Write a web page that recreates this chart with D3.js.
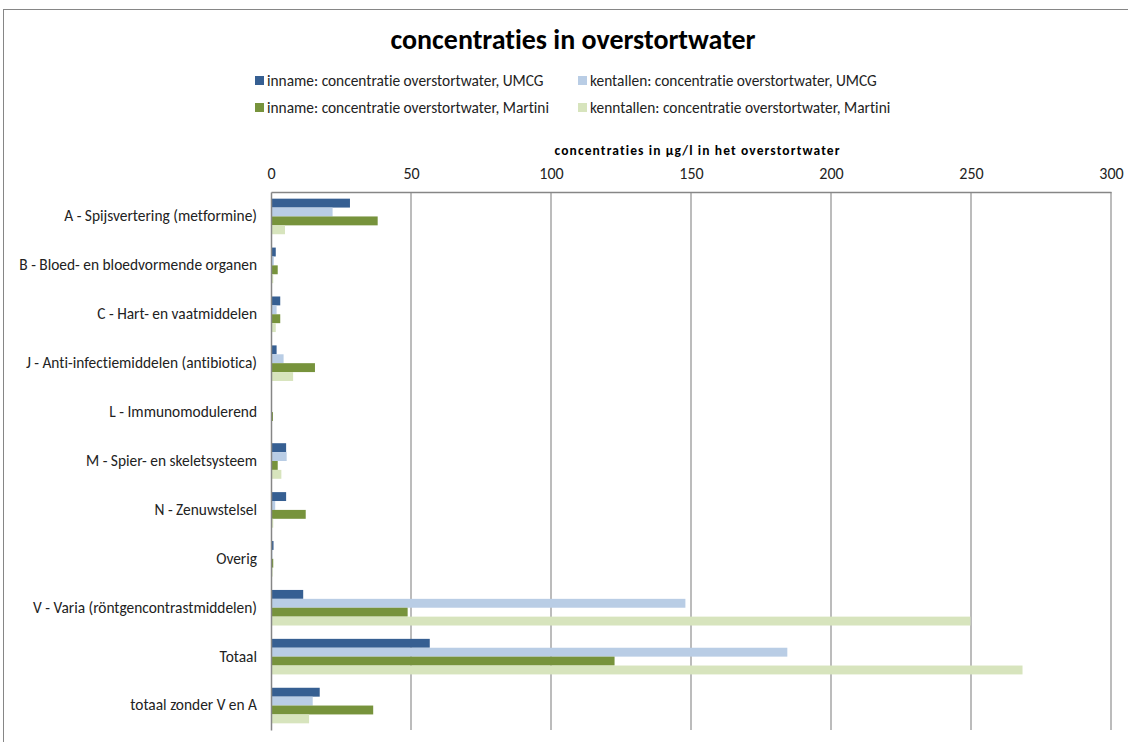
<!DOCTYPE html>
<html>
<head>
<meta charset="utf-8">
<script src="https://cdn.jsdelivr.net/npm/d3@7"></script>
<style>
  body { margin: 0; background: #fff; }
  svg { font-family: Carlito, Lato, "Open Sans", sans-serif; font-variant-ligatures: none; }
</style>
</head>
<body>
<svg id="chart" width="1128" height="742"></svg>
<script>
// categories (top to bottom)
const categories = [
    "A - Spijsvertering (metformine)",
    "B - Bloed- en bloedvormende organen",
    "C - Hart- en vaatmiddelen",
    "J - Anti-infectiemiddelen (antibiotica)",
    "L - Immunomodulerend",
    "M - Spier- en skeletsysteem",
    "N - Zenuwstelsel",
    "Overig",
    "V - Varia (röntgencontrastmiddelen)",
    "Totaal",
    "totaal zonder V en A"
];

const seriesNames = [
    "inname: concentratie overstortwater, UMCG",
    "kentallen: concentratie overstortwater, UMCG",
    "inname: concentratie overstortwater, Martini",
    "kenntallen: concentratie overstortwater, Martini"
];

const seriesColors = ["#365f92", "#b9cde5", "#77933c", "#d7e4bd"];

// values in µg/l
const innameUMCG     = [28.2, 1.7, 3.3, 2.0, 0.0, 5.4, 5.4, 0.9, 11.5, 56.7, 17.4];
const kentallenUMCG  = [22.0, 1.0, 2.0, 4.5, 0.0, 5.6, 1.5, 0.5, 148.0, 184.4, 14.9];
const innameMartini  = [38.1, 2.4, 3.3, 15.7, 0.7, 2.4, 12.4, 0.8, 48.8, 122.7, 36.5];
const kentallenMartini = [5.0, 0.8, 1.7, 7.9, 0.0, 3.7, 0.8, 0.6, 249.8, 268.4, 13.6];

const xTicks = [0, 50, 100, 150, 200, 250, 300];

const seriesValues = [innameUMCG, kentallenUMCG, innameMartini, kentallenMartini];

const svg = d3.select("#chart");

// outer chart frame
svg.append("rect")
    .attr("x", 3.5).attr("y", 9.5)
    .attr("width", 1140).attr("height", 750)
    .attr("fill", "none")
    .attr("stroke", "#868686")
    .attr("stroke-width", 1);

const plot = {left: 271, right: 1111, top: 192, bottom: 730};

const x = d3.scaleLinear().domain([0, 300]).range([plot.left, plot.right]);
const y = d3.scaleBand().domain(categories).range([plot.top, plot.bottom]).paddingInner(0).paddingOuter(0);

// each band holds 4 bars plus a 150% gap
const barH = y.bandwidth() / 5.5;
const inner = d3.scaleBand().domain(d3.range(4))
    .range([barH * 0.75, barH * 4.75]);

// title
svg.append("text")
    .attr("x", 573).attr("y", 49)
    .attr("text-anchor", "middle")
    .attr("font-size", 27.5).attr("font-weight", "bold")
    .attr("textLength", 365).attr("lengthAdjust", "spacingAndGlyphs")
    .text("concentraties in overstortwater");

// legend
const legendPos = [[255, 81], [578, 81], [255, 108], [578, 108]];
seriesNames.forEach(function(name, i) {
    let g = svg.append("g").attr("transform", "translate(" + legendPos[i][0] + "," + legendPos[i][1] + ")");
    g.append("rect").attr("x", 0).attr("y", -5).attr("width", 9).attr("height", 9).attr("fill", seriesColors[i]);
    g.append("text").attr("x", i % 2 ? 12 : 12).attr("y", 5).attr("font-size", 15.4).attr("fill", "#222")
        .text(name);
});

// axis title
svg.append("text")
    .attr("x", 697).attr("y", 155)
    .attr("text-anchor", "middle")
    .attr("font-size", 13.5).attr("font-weight", "bold")
    .attr("textLength", 285).attr("lengthAdjust", "spacing")
    .text("concentraties in µg/l in het overstortwater");

// gridlines
svg.append("g")
    .selectAll("line")
    .data(xTicks.slice(1))
    .join("line")
    .attr("x1", d => x(d)).attr("x2", d => x(d))
    .attr("y1", plot.top).attr("y2", plot.bottom)
    .attr("stroke", "#a6a6a6").attr("stroke-width", 1.5);

// bars
seriesValues.forEach(function(vals, s) {
    svg.append("g")
        .selectAll("rect")
        .data(vals)
        .join("rect")
        .attr("x", x(0))
        .attr("y", (d, i) => y(categories[i]) + inner(s))
        .attr("width", d => x(d) - x(0))
        .attr("height", inner.bandwidth())
        .attr("fill", seriesColors[s]);
});

// top axis
const xAxis = d3.axisTop(x).tickValues(xTicks).tickSize(0).tickPadding(13);
const ax = svg.append("g").attr("transform", "translate(0," + plot.top + ")").call(xAxis);
ax.select(".domain").attr("stroke", "#868686").attr("stroke-width", 1.5);
ax.selectAll("text").attr("font-size", 16).attr("fill", "#222").attr("font-family", "Carlito, Lato, 'Open Sans', sans-serif");

// left axis
const yAxis = d3.axisLeft(y).tickSize(0).tickPadding(14);
const ay = svg.append("g").attr("transform", "translate(" + plot.left + ",0)").call(yAxis);
ay.select(".domain").attr("stroke", "#868686").attr("stroke-width", 1.5);
ay.selectAll("text").attr("font-size", 15.4).attr("fill", "#222").attr("font-family", "Carlito, Lato, 'Open Sans', sans-serif");
</script>
</body>
</html>
